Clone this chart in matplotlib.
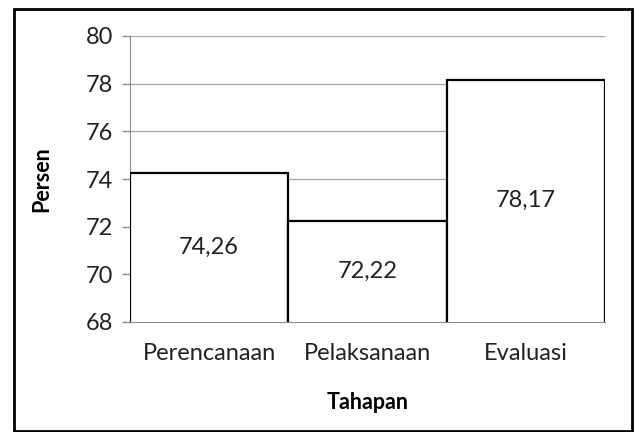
import matplotlib
matplotlib.use("Agg")
import matplotlib.pyplot as plt
from matplotlib.patches import Rectangle

categories = ["Perencanaan", "Pelaksanaan", "Evaluasi"]
values = [74.26, 72.22, 78.17]
yticks = [68, 70, 72, 74, 76, 78, 80]

plt.rcParams['font.family'] = ['Lato', 'DejaVu Sans']

fig = plt.figure(figsize=(6.35, 4.32), dpi=100)
W, H = 635, 432
ax = fig.add_axes([130 / W, 1 - 322 / H, (605 - 130) / W, (322 - 36) / H])

FS = 17
x = list(range(len(categories)))
ax.bar(x, values, width=1.0, color="white", edgecolor="black", linewidth=1.6, zorder=3)
ax.set_xlim(-0.5, len(categories) - 0.5)
ax.set_ylim(68, 80)
ax.set_yticks(yticks)
ax.set_yticklabels([str(t) for t in yticks], fontsize=FS, color="#222222")
ax.set_xticks(x)
ax.set_xticklabels(categories, fontsize=FS, color="#222222")
ax.tick_params(axis="x", length=0, pad=15)
ax.tick_params(axis="y", length=6, color="#8c8c8c", width=1, pad=6)
ax.grid(axis="y", color="#a6a6a6", linewidth=0.9, zorder=0)
ax.set_axisbelow(True)
for s in ["top", "right"]:
    ax.spines[s].set_visible(False)
ax.spines["left"].set_color("#8c8c8c")
ax.spines["bottom"].set_color("#8c8c8c")
ax.spines["left"].set_zorder(2)

for xi, v in zip(x, values):
    ax.text(xi, (68 + v) / 2, f"{v:.2f}".replace(".", ","), ha="center", va="center",
            fontsize=FS, color="#222222", zorder=4)

ax.set_ylabel("Persen", fontsize=15.5, fontweight="bold", labelpad=24)
ax.set_xlabel("Tahapan", fontsize=15.5, fontweight="bold", labelpad=20)

fig.patches.append(Rectangle((14 / W, 1 / H), (632 - 14) / W, (431 - 8) / H - 1 / H,
                             transform=fig.transFigure, fill=False, edgecolor="black",
                             linewidth=2))

fig.savefig("out.png", dpi=100)
